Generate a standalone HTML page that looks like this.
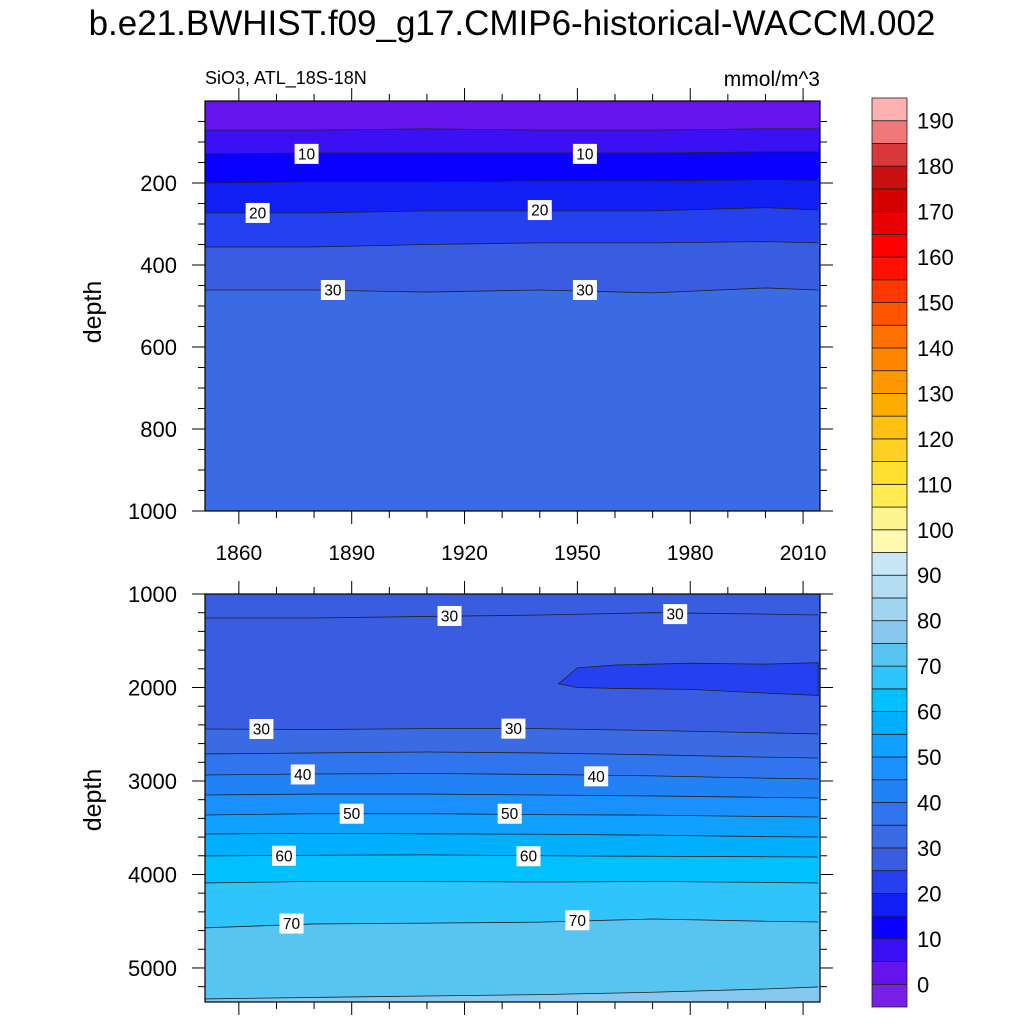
<!DOCTYPE html>
<html><head><meta charset="utf-8"><style>
body{margin:0;background:#fff;}
svg{display:block;font-family:"Liberation Sans",sans-serif;}
</style></head><body>
<svg id="chart" width="1024" height="1024" viewBox="0 0 1024 1024">
<text x="512" y="35" font-size="35" text-anchor="middle">b.e21.BWHIST.f09_g17.CMIP6-historical-WACCM.002</text>
<text x="205" y="84" font-size="18">SiO3, ATL_18S-18N</text>
<text x="820" y="86" font-size="21" text-anchor="end">mmol/m^3</text>
<text transform="translate(101,312) rotate(-90)" font-size="25" text-anchor="middle">depth</text>
<text transform="translate(101,800) rotate(-90)" font-size="25" text-anchor="middle">depth</text>
<g id="top"></g>
<g id="bot"></g>
<g id="cbar"></g>
</svg>
<script>
const years = [1850, 1880, 1910, 1940, 1970, 2000, 2014];
const topLevels = [5, 10, 15, 20, 25, 30];
const topDepths = [
 [71, 71, 68, 71, 71, 68, 68],
 [129, 127, 127, 127, 127, 124, 124],
 [200, 197, 197, 195, 195, 192, 193],
 [273, 273, 268, 268, 268, 260, 266],
 [356, 356, 350, 346, 346, 343, 346],
 [461, 461, 466, 461, 468, 456, 461]
];
const botLevels = [30, 30, 35, 40, 45, 50, 55, 60, 65, 70, 75];
const botDepths = [
 [1257, 1257, 1240, 1225, 1200, 1215, 1225],
 [2444, 2450, 2440, 2440, 2460, 2485, 2497],
 [2711, 2700, 2690, 2700, 2720, 2745, 2754],
 [2936, 2925, 2920, 2930, 2945, 2970, 2979],
 [3150, 3140, 3140, 3150, 3160, 3175, 3182],
 [3364, 3350, 3350, 3360, 3365, 3380, 3385],
 [3567, 3560, 3565, 3570, 3580, 3595, 3599],
 [3802, 3795, 3790, 3800, 3805, 3810, 3813],
 [4091, 4075, 4075, 4080, 4075, 4085, 4091],
 [4572, 4529, 4520, 4510, 4476, 4500, 4508],
 [5332, 5315, 5300, 5285, 5260, 5225, 5203]
];
const blobYears = [1945, 1950, 1960, 1980, 2000, 2014, 2014, 2000, 1980, 1960, 1950, 1945];
const blobDepths = [1960, 1790, 1760, 1740, 1750, 1735, 2085, 2060, 2020, 2010, 2000, 1960];
const colorLevels = [0,5,10,15,20,25,30,35,40,45,50,55,60,65,70,75,80,85,90,95,100,105,110,115,120,125,130,135,140,145,150,155,160,165,170,175,180,185,190];
const colorLabels = [0,10,20,30,40,50,60,70,80,90,100,110,120,130,140,150,160,170,180,190];
const colors = ["#7a1fe8","#6614ee","#3a10f5","#0a00ff","#1020f5","#2540ee","#3a5ce0","#3a6ae4","#3074ee","#2082f5","#1a90ff","#10a0ff","#00b0ff","#00c0ff","#30c4fc","#58c4f0","#88c8ee","#a0d4f0","#b4dcf2","#c8e6f5","#fffab0","#fff590","#ffec50","#ffe030","#ffd020","#ffc010","#ffac00","#ff9800","#ff8400","#ff7000","#ff5400","#ff3800","#ff1000","#ff0000","#e80000","#d40000","#c81010","#d83838","#f07878","#ffb0b0"];
const topLabels = [[1878,10,129],[1952,10,129],[1865,20,273],[1940,20,266],[1885,30,461],[1952,30,461]];
const botLabels = [[1916,30,1235],[1976,30,1215],[1866,30,2444],[1933,30,2440],[1877,40,2930],[1955,40,2950],[1890,50,3350],[1932,50,3350],[1872,60,3800],[1937,60,3805],[1874,70,4525],[1950,70,4490]];
const xTicks = [1860,1890,1920,1950,1980,2010];

const NS="http://www.w3.org/2000/svg";
function mk(tag,attrs,parent){const e=document.createElementNS(NS,tag);for(const k in attrs)e.setAttribute(k,attrs[k]);parent.appendChild(e);return e;}
function colorFor(v){let i=0;while(i<colorLevels.length&&v>=colorLevels[i])i++;return colors[i];}
const X0=205,X1=820,YR0=1851,YR1=2014.5;
function xs(yr){return X0+(yr-YR0)/(YR1-YR0)*(X1-X0);}

function panel(g,top,bottom,d0,d1,levels,depths,labels,name){
  const ys=d=>top+(d-d0)/(d1-d0)*(bottom-top);
  const cp='clip-'+name;
  const defs=mk('defs',{},g);const c=mk('clipPath',{id:cp},defs);mk('rect',{x:X0,y:top,width:X1-X0,height:bottom-top},c);
  const body=mk('g',{'clip-path':'url(#'+cp+')'},g);
  const bg=mk('rect',{x:X0,y:top,width:X1-X0,height:bottom-top,fill:colorFor(levels[levels.length-1]+0.1)},body);
  
  
  for(let k=levels.length-1;k>=0;k--){
    let pts=years.map((yr,i)=>xs(yr)+','+ys(depths[k][i]));
    pts.push(X1+5+','+(top-5));pts.push(X0-5+','+(top-5));
    const p=mk('polygon',{points:pts.join(' '),fill:colorFor(levels[k]-0.1)},body);
    
    
  }
  if(name==='bottom'){
    let pts=years.map((yr,i)=>xs(yr)+','+ys(botDepths[0][i]));
    for(let i=years.length-1;i>=0;i--)pts.push(xs(years[i])+','+ys(botDepths[1][i]));
    const p=mk('polygon',{points:pts.join(' '),fill:colorFor(29)},body);
    
    
    const bp=blobYears.map((yr,i)=>xs(yr)+','+ys(blobDepths[i])).join(' ');
    const b=mk('polygon',{points:bp,fill:colorFor(24),stroke:'#222','stroke-width':0.8},body);
    
    
  }
  for(let k=0;k<levels.length;k++){
    const l=mk('polyline',{points:years.map((yr,i)=>xs(yr)+','+ys(depths[k][i])).join(' '),fill:'none',stroke:'#222','stroke-width':0.8},body);
    
    
  }
  labels.forEach(lb=>{
    const x=xs(lb[0]),y=ys(lb[2]);
    const r=mk('rect',{x:x-12,y:y-10,width:24,height:20,fill:'#fff'},body);
    
    
    const t=mk('text',{x:x,y:y+5.5,'font-size':15.5,'text-anchor':'middle'},body);
    t.textContent=lb[1];
    
    
  });
  const fr=mk('rect',{x:X0,y:top,width:X1-X0,height:bottom-top,fill:'none',stroke:'#000','stroke-width':1.2},g);
  
  
  for(let yr=1850;yr<=2014;yr+=10){
    const maj=xTicks.includes(yr);const L=maj?13:7;const x=xs(yr);
    if(x<X0)continue;
    mk('line',{x1:x,y1:top,x2:x,y2:top-L,stroke:'#000','stroke-width':1},g);
    mk('line',{x1:x,y1:bottom,x2:x,y2:bottom+L,stroke:'#000','stroke-width':1},g);
  }
  return ys;
}
const gt=document.getElementById('top'),gb=document.getElementById('bot');
const ysT=panel(gt,101,511,0,1000,topLevels,topDepths,topLabels,'top');
const ysB=panel(gb,594,1002,1000,5364,botLevels,botDepths,botLabels,'bottom');
xTicks.forEach(yr=>{
  const t=mk('text',{x:xs(yr),y:560,'font-size':21,'text-anchor':'middle'},gt);
  t.textContent=yr;
  
  
});
function yticks(g,ys,d0,d1,minor,major){
  for(let d=d0;d<=d1;d+=minor){
    const y=ys(d);const maj=(d%major===0);const L=maj?13:7;
    if(d===0)continue;
    mk('line',{x1:X0,y1:y,x2:X0-L,y2:y,stroke:'#000','stroke-width':1},g);
    mk('line',{x1:X1,y1:y,x2:X1+L,y2:y,stroke:'#000','stroke-width':1},g);
    if(maj){const t=mk('text',{x:177,y:y+8,'font-size':22,'text-anchor':'end'},g);t.textContent=d;
      
      }
  }
}
yticks(gt,ysT,0,1000,50,200);
yticks(gb,ysB,1000,5364,200,1000);
const cb=document.getElementById('cbar');
const CT=98,CB=1007,n=colors.length,h=(CB-CT)/n;
colors.forEach((c,i)=>{
  const r=mk('rect',{x:872,y:CB-(i+1)*h,width:35,height:h,fill:c,stroke:'#222','stroke-width':0.8},cb);
  
  
});
colorLabels.forEach(v=>{
  const i=colorLevels.indexOf(v);const y=CB-(i+1)*h;
  const t=mk('text',{x:917,y:y+8,'font-size':22},cb);t.textContent=v;
  
  
});
</script>
</body></html>
